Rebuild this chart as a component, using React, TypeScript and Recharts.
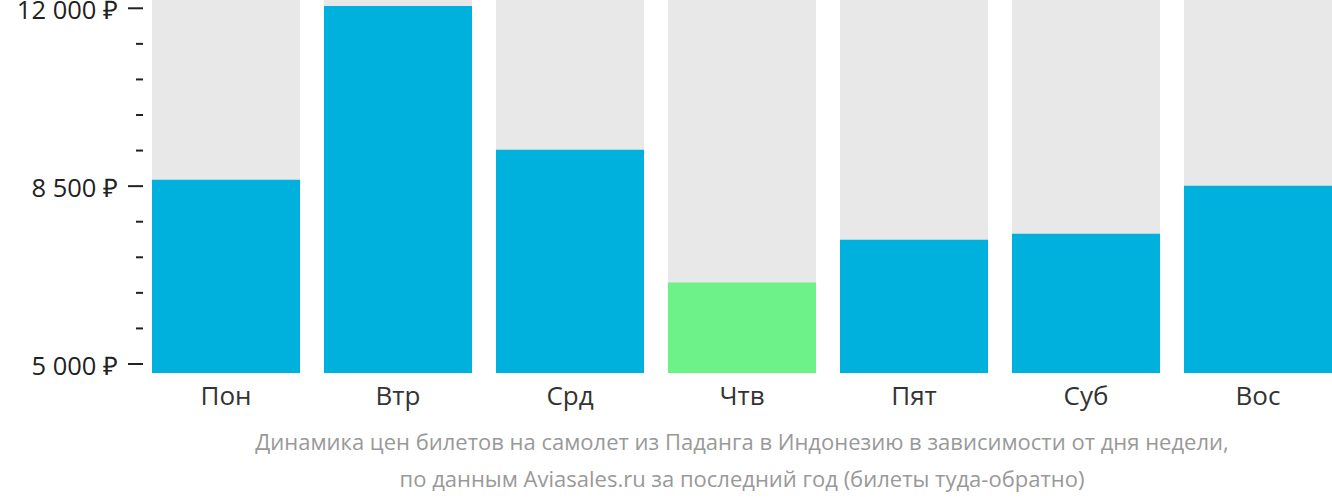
import { BarChart, Bar, XAxis, YAxis, Cell } from "recharts";

// ─── Данные ───────────────────────────────────────────────────────────────────

const days = ["Пон", "Втр", "Срд", "Чтв", "Пят", "Суб", "Вос"];
const prices = [8624, 12045, 9214, 6605, 7444, 7562, 8506];
const yTicks = [5000, 5700, 6400, 7100, 7800, 8500, 9200, 9900, 10600, 11300, 12000];
const majorTicks = [5000, 8500, 12000];
const caption = [
  "Динамика цен билетов на самолет из Паданга в Индонезию в зависимости от дня недели,",
  "по данным Aviasales.ru за последний год (билеты туда-обратно)",
];

const BLUE = "#00b1dd";
const GREEN = "#6cf288";
const GRAY = "#e8e8e8";
const FONT = "'Open Sans', sans-serif";

const minPrice = Math.min(...prices);

function fmt(v: number) {
  return `${v.toLocaleString("ru-RU").replace(/\s/g, " ")} ₽`;
}

// ─── Тики ─────────────────────────────────────────────────────────────────────

function YTick({ y, payload }: any) {
  const major = majorTicks.includes(payload.value);
  return (
    <g>
      {major && (
        <text
          x={118}
          y={y + 10.5}
          textAnchor="end"
          fontSize={25.5}
          fill="#222"
          fontFamily={FONT}
        >
          {fmt(payload.value)}
        </text>
      )}
      <line
        x1={major ? 128 : 136}
        x2={143}
        y1={y}
        y2={y}
        stroke="#222"
        strokeWidth={2}
      />
    </g>
  );
}

function XTick({ x, y, payload }: any) {
  return (
    <text
      x={x}
      y={y + 32}
      textAnchor="middle"
      fontSize={26}
      fill="#333"
      fontFamily={FONT}
    >
      {payload.value}
    </text>
  );
}

// ─── Главный компонент ────────────────────────────────────────────────────────

export default function App() {
  const data = days.map((d, i) => ({ day: d, price: prices[i] }));

  return (
    <div
      style={{
        position: "absolute",
        left: 0,
        top: 0,
        width: 1332,
        height: 502,
        overflow: "hidden",
        background: "#fff",
        fontFamily: FONT,
      }}
    >
      <BarChart
        width={1344}
        height={420}
        data={data}
        margin={{ top: 0, right: 0, left: 0, bottom: 0 }}
        barCategoryGap={12}
      >
        <XAxis
          dataKey="day"
          axisLine={false}
          tickLine={false}
          tickSize={0}
          tickMargin={0}
          height={47}
          tick={<XTick />}
          interval={0}
        />
        <YAxis
          width={140}
          domain={[4823, 12163]}
          ticks={yTicks}
          interval={0}
          axisLine={false}
          tickLine={false}
          allowDataOverflow
          tick={<YTick />}
        />
        <Bar
          dataKey="price"
          background={{ fill: GRAY }}
          isAnimationActive={false}
        >
          {data.map((d) => (
            <Cell key={d.day} fill={d.price === minPrice ? GREEN : BLUE} />
          ))}
        </Bar>
      </BarChart>
      <div
        style={{
          position: "absolute",
          left: 140,
          width: 1204,
          top: 423,
          textAlign: "center",
          color: "#999",
          fontSize: 22,
          lineHeight: "37px",
        }}
      >
        {caption.map((c) => (
          <div key={c}>{c}</div>
        ))}
      </div>
    </div>
  );
}
